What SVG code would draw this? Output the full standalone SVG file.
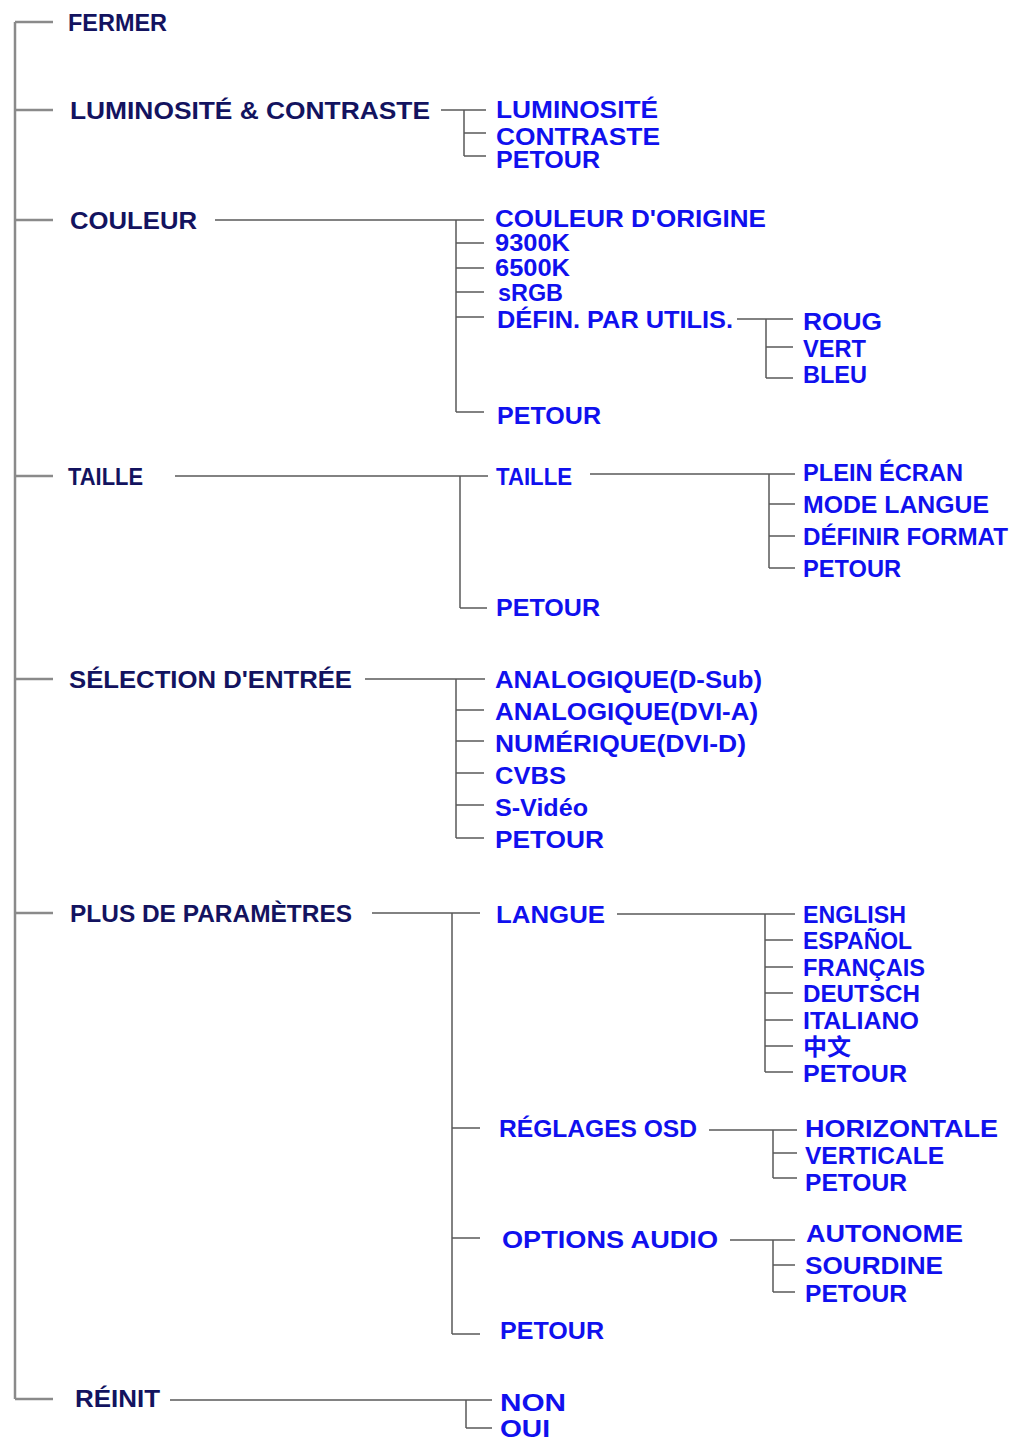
<svg xmlns="http://www.w3.org/2000/svg" width="1013" height="1437" viewBox="0 0 1013 1437">
<style>
.l1{font-family:"Liberation Sans",Arial,sans-serif;font-weight:bold;font-size:23px;fill:#13135f}
.l2{font-family:"Liberation Sans",Arial,sans-serif;font-weight:bold;font-size:24px;fill:#1010ee}
.cjk{font-family:"Noto Sans CJK SC",sans-serif;font-weight:bold;font-size:23px;fill:#1010ee}
.main{stroke:#8a8a8a;stroke-width:2.5;fill:none}
.c{stroke:#5a5a5a;stroke-width:1.5;fill:none}
</style>
<rect width="1013" height="1437" fill="#ffffff"/>
<g id="connectors">
<path class="main" d="M15,22V1399M15,22H53M15,110H53M15,220H53M15,476H53M15,679H53M15,913H53M15,1399H53"/>
<path class="c" d="M441,110H486M464,110V156M464,133H486M464,156H486"/>
<path class="c" d="M215,220H484M456,220V412M456,243H484M456,268H484M456,292H484M456,317H484M456,412H484"/>
<path class="c" d="M737,319H793M766,319V378M766,347H793M766,378H793"/>
<path class="c" d="M175,476H488M460,476V608M460,608H487"/>
<path class="c" d="M590,474H795M769,474V568M769,504H795M769,536H795M769,568H795"/>
<path class="c" d="M365,679H485M456,679V838M456,710H484M456,741H484M456,773H484M456,805H484M456,838H484"/>
<path class="c" d="M372,913H480M452,913V1334M452,1128H480M452,1238H480M452,1334H480"/>
<path class="c" d="M617,914H795M765,914V1072M765,940H793M765,967H793M765,993H793M765,1020H793M765,1046H793M765,1072H793"/>
<path class="c" d="M709,1130H797M773,1130V1178M773,1153H797M773,1178H797"/>
<path class="c" d="M730,1240H795M773,1240V1292M773,1265H795M773,1292H795"/>
<path class="c" d="M170,1400H492M466,1400V1428M466,1428H492"/>
</g>
<g id="fermer"><text class="l1" x="68" y="31" textLength="99" lengthAdjust="spacingAndGlyphs">FERMER</text></g>
<g id="luminosite-contraste"><text class="l1" x="70" y="119" textLength="360" lengthAdjust="spacingAndGlyphs">LUMINOSITÉ &amp; CONTRASTE</text></g>
<g id="lc-luminosite"><text class="l2" x="496" y="118" textLength="162" lengthAdjust="spacingAndGlyphs">LUMINOSITÉ</text></g>
<g id="lc-contraste"><text class="l2" x="496" y="145" textLength="164" lengthAdjust="spacingAndGlyphs">CONTRASTE</text></g>
<g id="lc-petour"><text class="l2" x="496" y="168" textLength="104" lengthAdjust="spacingAndGlyphs">PETOUR</text></g>
<g id="couleur"><text class="l1" x="70" y="229" textLength="127" lengthAdjust="spacingAndGlyphs">COULEUR</text></g>
<g id="c-origine"><text class="l2" x="495" y="227" textLength="271" lengthAdjust="spacingAndGlyphs">COULEUR  D'ORIGINE</text></g>
<g id="c-9300"><text class="l2" x="495" y="251" textLength="75" lengthAdjust="spacingAndGlyphs">9300K</text></g>
<g id="c-6500"><text class="l2" x="495" y="276" textLength="75" lengthAdjust="spacingAndGlyphs">6500K</text></g>
<g id="c-srgb"><text class="l2" x="498" y="301" textLength="65" lengthAdjust="spacingAndGlyphs">sRGB</text></g>
<g id="c-defin"><text class="l2" x="497" y="328" textLength="236" lengthAdjust="spacingAndGlyphs">DÉFIN. PAR UTILIS.</text></g>
<g id="c-rouge"><text class="l2" x="803" y="330" textLength="79" lengthAdjust="spacingAndGlyphs">ROUG</text></g>
<g id="c-vert"><text class="l2" x="803" y="357" textLength="63" lengthAdjust="spacingAndGlyphs">VERT</text></g>
<g id="c-bleu"><text class="l2" x="803" y="383" textLength="64" lengthAdjust="spacingAndGlyphs">BLEU</text></g>
<g id="c-petour"><text class="l2" x="497" y="424" textLength="104" lengthAdjust="spacingAndGlyphs">PETOUR</text></g>
<g id="taille"><text class="l1" x="68" y="485" textLength="75" lengthAdjust="spacingAndGlyphs">TAILLE</text></g>
<g id="t-taille"><text class="l2" x="496" y="485" textLength="76" lengthAdjust="spacingAndGlyphs">TAILLE</text></g>
<g id="t-plein"><text class="l2" x="803" y="481" textLength="160" lengthAdjust="spacingAndGlyphs">PLEIN ÉCRAN</text></g>
<g id="t-mode"><text class="l2" x="803" y="513" textLength="186" lengthAdjust="spacingAndGlyphs">MODE LANGUE</text></g>
<g id="t-definir"><text class="l2" x="803" y="545" textLength="205" lengthAdjust="spacingAndGlyphs">DÉFINIR FORMAT</text></g>
<g id="t-petour2"><text class="l2" x="803" y="577" textLength="98" lengthAdjust="spacingAndGlyphs">PETOUR</text></g>
<g id="t-petour"><text class="l2" x="496" y="616" textLength="104" lengthAdjust="spacingAndGlyphs">PETOUR</text></g>
<g id="selection"><text class="l1" x="69" y="688" textLength="283" lengthAdjust="spacingAndGlyphs">SÉLECTION D'ENTRÉE</text></g>
<g id="s-dsub"><text class="l2" x="495" y="688" textLength="267" lengthAdjust="spacingAndGlyphs">ANALOGIQUE(D-Sub)</text></g>
<g id="s-dvia"><text class="l2" x="495" y="720" textLength="263" lengthAdjust="spacingAndGlyphs">ANALOGIQUE(DVI-A)</text></g>
<g id="s-dvid"><text class="l2" x="495" y="752" textLength="251" lengthAdjust="spacingAndGlyphs">NUMÉRIQUE(DVI-D)</text></g>
<g id="s-cvbs"><text class="l2" x="495" y="784" textLength="71" lengthAdjust="spacingAndGlyphs">CVBS</text></g>
<g id="s-svideo"><text class="l2" x="495" y="816" textLength="93" lengthAdjust="spacingAndGlyphs">S-Vidéo</text></g>
<g id="s-petour"><text class="l2" x="495" y="848" textLength="109" lengthAdjust="spacingAndGlyphs">PETOUR</text></g>
<g id="plus"><text class="l1" x="70" y="922" textLength="282" lengthAdjust="spacingAndGlyphs">PLUS DE PARAMÈTRES</text></g>
<g id="p-langue"><text class="l2" x="496" y="923" textLength="109" lengthAdjust="spacingAndGlyphs">LANGUE</text></g>
<g id="p-english"><text class="l2" x="803" y="923" textLength="103" lengthAdjust="spacingAndGlyphs">ENGLISH</text></g>
<g id="p-espanol"><text class="l2" x="803" y="949" textLength="109" lengthAdjust="spacingAndGlyphs">ESPAÑOL</text></g>
<g id="p-francais"><text class="l2" x="803" y="976" textLength="122" lengthAdjust="spacingAndGlyphs">FRANÇAIS</text></g>
<g id="p-deutsch"><text class="l2" x="803" y="1002" textLength="117" lengthAdjust="spacingAndGlyphs">DEUTSCH</text></g>
<g id="p-italiano"><text class="l2" x="803" y="1029" textLength="116" lengthAdjust="spacingAndGlyphs">ITALIANO</text></g>
<g id="p-chinese"><text class="cjk" x="803" y="1055" textLength="48" lengthAdjust="spacingAndGlyphs">中文</text></g>
<g id="p-lpetour"><text class="l2" x="803" y="1082" textLength="104" lengthAdjust="spacingAndGlyphs">PETOUR</text></g>
<g id="p-osd"><text class="l2" x="499" y="1137" textLength="198" lengthAdjust="spacingAndGlyphs">RÉGLAGES OSD</text></g>
<g id="p-horiz"><text class="l2" x="805" y="1137" textLength="193" lengthAdjust="spacingAndGlyphs">HORIZONTALE</text></g>
<g id="p-vert"><text class="l2" x="805" y="1164" textLength="139" lengthAdjust="spacingAndGlyphs">VERTICALE</text></g>
<g id="p-opetour"><text class="l2" x="805" y="1191" textLength="102" lengthAdjust="spacingAndGlyphs">PETOUR</text></g>
<g id="p-audio"><text class="l2" x="502" y="1248" textLength="216" lengthAdjust="spacingAndGlyphs">OPTIONS AUDIO</text></g>
<g id="p-autonome"><text class="l2" x="806" y="1242" textLength="157" lengthAdjust="spacingAndGlyphs">AUTONOME</text></g>
<g id="p-sourdine"><text class="l2" x="805" y="1274" textLength="138" lengthAdjust="spacingAndGlyphs">SOURDINE</text></g>
<g id="p-apetour"><text class="l2" x="805" y="1302" textLength="102" lengthAdjust="spacingAndGlyphs">PETOUR</text></g>
<g id="p-petour"><text class="l2" x="500" y="1339" textLength="104" lengthAdjust="spacingAndGlyphs">PETOUR</text></g>
<g id="reinit"><text class="l1" x="75" y="1407" textLength="85" lengthAdjust="spacingAndGlyphs">RÉINIT</text></g>
<g id="r-non"><text class="l2" x="500" y="1411" textLength="66" lengthAdjust="spacingAndGlyphs">NON</text></g>
<g id="r-oui"><text class="l2" x="500" y="1437" textLength="50" lengthAdjust="spacingAndGlyphs">OUI</text></g>
</svg>
